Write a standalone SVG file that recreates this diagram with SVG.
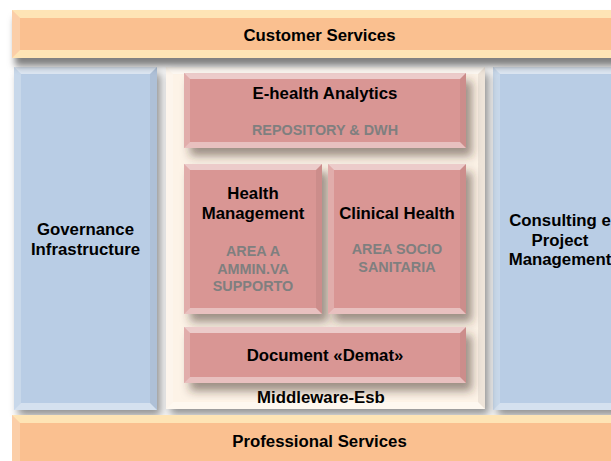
<svg xmlns="http://www.w3.org/2000/svg" width="611" height="461" viewBox="0 0 611 461">
<defs>
<filter id="sh" x="-10%" y="-10%" width="130%" height="140%">
<feDropShadow dx="4" dy="6" stdDeviation="4" flood-color="#000" flood-opacity="0.42"/>
</filter>
<filter id="sht" x="-10%" y="-20%" width="130%" height="180%">
<feDropShadow dx="3" dy="8" stdDeviation="3.5" flood-color="#000" flood-opacity="0.5"/>
</filter>
<filter id="shb" x="-10%" y="-10%" width="130%" height="140%">
<feDropShadow dx="6" dy="8" stdDeviation="5" flood-color="#3a2a20" flood-opacity="0.5"/>
</filter>
</defs>
<style>
.t{font-family:"Liberation Sans",Arial,sans-serif;font-weight:bold;font-size:16.8px;fill:#000;text-anchor:middle}
.g{font-family:"Liberation Sans",Arial,sans-serif;font-weight:bold;font-size:14.4px;fill:#7f7f7f;text-anchor:middle}
.orange{fill:#FAC090}
.blue{fill:#B9CDE5}
.cream{fill:#FDF3E7}
.pink{fill:#D99694}
.bt{fill:#fff;opacity:0.5}
.bb{fill:#fff;opacity:0.4}
.bl{fill:#fff;opacity:0.22}
.br{fill:#000;opacity:0.06}
.yt{fill:#FFF3C4;opacity:0.7}
</style>
<rect width="611" height="461" fill="#fff"/>

<g id="governance">
<rect class="blue" x="14" y="67" width="143" height="343" filter="url(#sh)"/>
<polygon class="bt" points="14,67 157,67 150,74 21,74"/>
<polygon class="bb" points="14,410 157,410 150,403 21,403"/>
<polygon class="bl" points="14,67 21,74 21,403 14,410"/>
<polygon class="br" points="157,67 150,74 150,403 157,410"/>
<text class="t" x="85.5" y="235">Governance</text>
<text class="t" x="85.5" y="255">Infrastructure</text>
</g>

<g id="consulting">
<rect class="blue" x="493" y="67" width="130" height="343" filter="url(#sh)"/>
<polygon class="bt" points="493,67 623,67 616,74 500,74"/>
<polygon class="bb" points="493,410 623,410 616,403 500,403"/>
<polygon class="bl" points="493,67 500,74 500,403 493,410"/>
<text class="t" x="560" y="226">Consulting e</text>
<text class="t" x="560" y="246">Project</text>
<text class="t" x="560" y="265">Management</text>
</g>

<g id="middleware">
<rect class="cream" x="166" y="67" width="319" height="342" filter="url(#sh)"/>
<polygon class="bt" points="166,67 485,67 478,74 173,74"/>
<polygon class="bb" points="166,409 485,409 478,402 173,402"/>
<polygon class="bl" points="166,67 173,74 173,402 166,409"/>
<polygon class="br" points="485,67 478,74 478,402 485,409"/>
<text class="t" x="321" y="403">Middleware-Esb</text>
</g>

<g id="ehealth">
<rect class="pink" x="184" y="73" width="282" height="75" filter="url(#shb)"/>
<polygon class="bt" points="184,73 466,73 460,79 190,79"/>
<polygon class="bb" points="184,148 466,148 460,142 190,142"/>
<polygon class="bl" points="184,73 190,79 190,142 184,148"/>
<polygon class="br" points="466,73 460,79 460,142 466,148"/>
<text class="t" x="325" y="99">E-health Analytics</text>
<text class="g" x="325" y="135">REPOSITORY &amp; DWH</text>
</g>

<g id="healthmgmt">
<rect class="pink" x="184" y="164" width="138" height="150" filter="url(#shb)"/>
<polygon class="bt" points="184,164 322,164 316,170 190,170"/>
<polygon class="bb" points="184,314 322,314 316,308 190,308"/>
<polygon class="bl" points="184,164 190,170 190,308 184,314"/>
<polygon class="br" points="322,164 316,170 316,308 322,314"/>
<text class="t" x="253" y="199">Health</text>
<text class="t" x="253" y="219">Management</text>
<text class="g" x="253" y="256">AREA A</text>
<text class="g" x="253" y="274">AMMIN.VA</text>
<text class="g" x="253" y="291">SUPPORTO</text>
</g>

<g id="clinical">
<rect class="pink" x="328" y="164" width="138" height="150" filter="url(#shb)"/>
<polygon class="bt" points="328,164 466,164 460,170 334,170"/>
<polygon class="bb" points="328,314 466,314 460,308 334,308"/>
<polygon class="bl" points="328,164 334,170 334,308 328,314"/>
<polygon class="br" points="466,164 460,170 460,308 466,314"/>
<text class="t" x="397" y="219">Clinical Health</text>
<text class="g" x="397" y="254">AREA SOCIO</text>
<text class="g" x="397" y="272">SANITARIA</text>
</g>

<g id="document">
<rect class="pink" x="184" y="327" width="282" height="56" filter="url(#shb)"/>
<polygon class="bt" points="184,327 466,327 460,333 190,333"/>
<polygon class="bb" points="184,383 466,383 460,377 190,377"/>
<polygon class="bl" points="184,327 190,333 190,377 184,383"/>
<polygon class="br" points="466,327 460,333 460,377 466,383"/>
<text class="t" x="325" y="361">Document «Demat»</text>
</g>

<g id="customer">
<rect class="orange" x="12" y="10" width="610" height="48" filter="url(#sht)"/>
<polygon class="yt" points="12,10 622,10 614,18 20,18"/>
<polygon class="yt" points="12,58 622,58 614,50 20,50"/>
<polygon class="bl" points="12,10 20,18 20,50 12,58"/>
<text class="t" x="319.5" y="41">Customer Services</text>
</g>

<g id="professional">
<rect class="orange" x="12" y="415" width="610" height="50"/>
<polygon class="yt" points="12,415 622,415 614,423 20,423"/>
<polygon class="bl" points="12,415 20,423 20,465 12,465"/>
<text class="t" x="319.5" y="447">Professional Services</text>
</g>

<g id="connectors"></g>
</svg>
